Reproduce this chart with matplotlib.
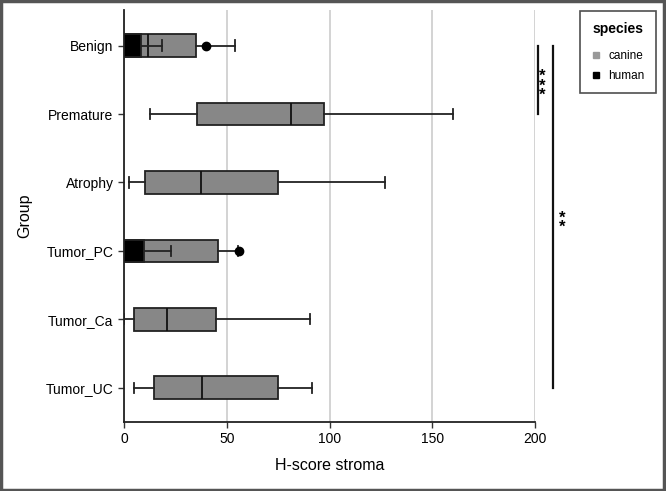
import numpy as np
import matplotlib
matplotlib.use('Agg')
import matplotlib.pyplot as plt
from matplotlib.patches import Rectangle
from matplotlib.lines import Line2D

plt.rcParams['font.family'] = ['Liberation Sans', 'DejaVu Sans']

# groups, top to bottom
groups = ['Benign', 'Premature', 'Atrophy', 'Tumor_PC', 'Tumor_Ca', 'Tumor_UC']

# canine box stats
c_low = [0, 12.8, 2.5, 0, 0, 5]
c_q1 = [0.8, 35.7, 10, 0.3, 4.7, 14.6]
c_med = [11.9, 81.5, 37.7, 6, 20.9, 38]
c_q3 = [35.2, 97.5, 74.8, 45.8, 44.6, 75]
c_high = [54, 159.9, 127, 55.5, 90.4, 91.5]

# human box stats, only two groups
h_groups = ['Benign', 'Tumor_PC']
h_low = [0, 0]
h_q1 = [0, 0]
h_med = [3, 5]
h_q3 = [8.5, 9.8]
h_high = [18.4, 22.7]
h_out = [[39.8], [56]]

# significance brackets: (from group, to group, label)
sig = [('Benign', 'Premature', '***'), ('Benign', 'Tumor_UC', '**')]

fig = plt.figure(figsize=(6.66, 4.91), dpi=100)
ax = fig.add_axes([124/666, 1 - 422/491, (535-124)/666, (422-10)/491])

def stats(lo, q1, med, q3, hi, fl):
    return [dict(whislo=a, q1=b, med=c, q3=d, whishi=e, fliers=f)
            for a, b, c, d, e, f in zip(lo, q1, med, q3, hi, fl)]

canine = stats(c_low, c_q1, c_med, c_q3, c_high, [[] for _ in groups])
human = stats(h_low, h_q1, h_med, h_q3, h_high, h_out)

pos = np.arange(len(groups))
hpos = [groups.index(g) for g in h_groups]

for st, p, col, z in [(canine, pos, '#878787', 2), (human, hpos, 'black', 4)]:
    ax.bxp(st, positions=p, vert=False, widths=0.33, capwidths=0.15,
           patch_artist=True, manage_ticks=False, zorder=z,
           boxprops=dict(facecolor=col, edgecolor='#222222', linewidth=1.3),
           medianprops=dict(color='#111111', linewidth=1.3 if col != 'black' else 0),
           whiskerprops=dict(color='#222222', linewidth=1.3),
           capprops=dict(color='#222222', linewidth=1.3),
           flierprops=dict(marker='o', markerfacecolor='black', markeredgecolor='black',
                           markersize=6))

ax.set_xlim(0, 200)
ax.set_ylim(5.5, -0.52)
ax.set_yticks(pos)
ax.set_yticklabels(groups, fontsize=10)
ax.set_xticks([0, 50, 100, 150, 200])
ax.tick_params(axis='x', labelsize=10)
ax.tick_params(length=4, width=1, color='#333333')
ax.set_xlabel('H-score stroma', fontsize=11.5, labelpad=8)
ax.set_ylabel('Group', fontsize=11.5, labelpad=10)
ax.xaxis.grid(True, color='#cccccc', linewidth=1.2)
ax.set_axisbelow(True)
for s in ['top', 'right']:
    ax.spines[s].set_visible(False)
for s in ['left', 'bottom']:
    ax.spines[s].set_linewidth(1.3)
    ax.spines[s].set_color('#222222')

# brackets drawn past the right edge of the panel, stars stacked beside them
xs = [201.5, 209]
star_x = [203.7, 213.4]
for (g1, g2, lab), x, sx in zip(sig, xs, star_x):
    y1, y2 = groups.index(g1), groups.index(g2)
    ax.plot([x, x], [y1, y2], color='#111111', linewidth=1.6, clip_on=False)
    ax.annotate('\n'.join(lab), xy=(sx, (y1 + y2) / 2), xytext=(0, -4.5),
                textcoords='offset points', ha='center', va='center',
                fontsize=12, fontweight='bold', linespacing=0.55,
                annotation_clip=False)

handles = [Line2D([], [], marker='s', linestyle='', color='#999999', markersize=5),
           Line2D([], [], marker='s', linestyle='', color='black', markersize=5)]
leg = fig.legend(handles, ['canine', 'human'], title='species',
                 loc='upper right', bbox_to_anchor=(656/666, 1 - 11/491),
                 borderaxespad=0, fontsize=8.5, title_fontproperties={'weight': 'bold', 'size': 10},
                 frameon=True, fancybox=False, edgecolor='#222222',
                 handlelength=0.8, handletextpad=0.65, borderpad=0.95, labelspacing=0.65)
leg.get_frame().set_linewidth(1.2)
leg._legend_box.sep = 10

# outer frame around the whole picture
fig.patches.append(Rectangle((0.002, 0.003), 0.995, 0.994, transform=fig.transFigure,
                             fill=False, edgecolor='#555555', linewidth=2.5))

fig.savefig('out.png', dpi=100)
